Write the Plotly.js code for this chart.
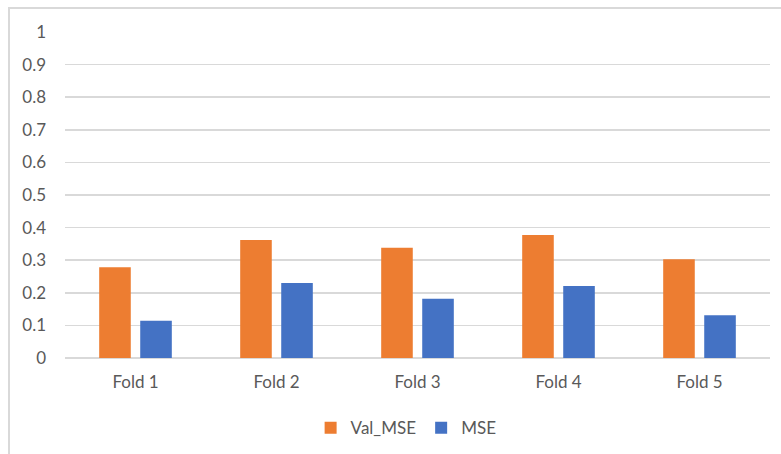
<!DOCTYPE html>
<html>
<head>
<meta charset="utf-8">
<script src="https://cdn.plot.ly/plotly-3.0.1.min.js"></script>
<style>
  html, body { margin: 0; padding: 0; width: 781px; height: 454px; overflow: hidden; background: #fff; }
  #frame { position: absolute; left: 8px; top: 7px; width: 820px; height: 470px; border: 2px solid #d9d9d9; box-sizing: border-box; }
  #chart { position: absolute; left: 0; top: 0; width: 781px; height: 454px; }
</style>
</head>
<body>
<div id="frame"></div>
<div id="chart"></div>
<script>
const categories = ["Fold 1", "Fold 2", "Fold 3", "Fold 4", "Fold 5"];
const valMse = [0.278, 0.362, 0.338, 0.377, 0.303];
const mse = [0.114, 0.230, 0.182, 0.221, 0.131];
const seriesNames = ["Val_MSE", "MSE"];
const yTicks = [0, 0.1, 0.2, 0.3, 0.4, 0.5, 0.6, 0.7, 0.8, 0.9, 1];
const yTickLabels = ["0", "0.1", "0.2", "0.3", "0.4", "0.5", "0.6", "0.7", "0.8", "0.9", "1"];

const fontFam = "Lato, 'Open Sans', sans-serif";
const data = [
  { type: "bar", name: seriesNames[0], x: categories, y: valMse, marker: { color: "#ED7D31" }, hoverinfo: "none" },
  { type: "bar", name: seriesNames[1], x: categories, y: mse, marker: { color: "#4472C4" }, hoverinfo: "none" }
];
const layout = {
  width: 781, height: 454,
  paper_bgcolor: "rgba(0,0,0,0)", plot_bgcolor: "rgba(0,0,0,0)",
  margin: { l: 65, r: 11, t: 32, b: 96, pad: 0, autoexpand: false },
  barmode: "group", bargap: 0.418, bargroupgap: 0.23,
  font: { family: fontFam, color: "#595959", size: 16 },
  xaxis: {
    type: "category", showgrid: false, zeroline: false, showline: false, ticks: "",
    tickfont: { size: 17, color: "#595959", family: fontFam },
    ticklabelstandoff: 12, fixedrange: true, automargin: false
  },
  yaxis: {
    range: [0, 1], tickvals: yTicks, ticktext: yTickLabels,
    showgrid: true, gridcolor: "#d9d9d9", gridwidth: 1.5,
    zeroline: true, zerolinecolor: "#d9d9d9", zerolinewidth: 1.5,
    showline: false, ticks: "", tickfont: { size: 17, color: "#595959", family: fontFam },
    ticklabelstandoff: 18, fixedrange: true, automargin: false
  },
  showlegend: true,
  legend: {
    orientation: "h", xref: "container", yref: "container",
    x: 0.52, xanchor: "center", y: 0.057, yanchor: "middle",
    font: { size: 17, color: "#595959", family: fontFam }, itemwidth: 30, traceorder: "normal"
  }
};
Plotly.newPlot("chart", data, layout, { displayModeBar: false, staticPlot: true });
</script>
</body>
</html>
